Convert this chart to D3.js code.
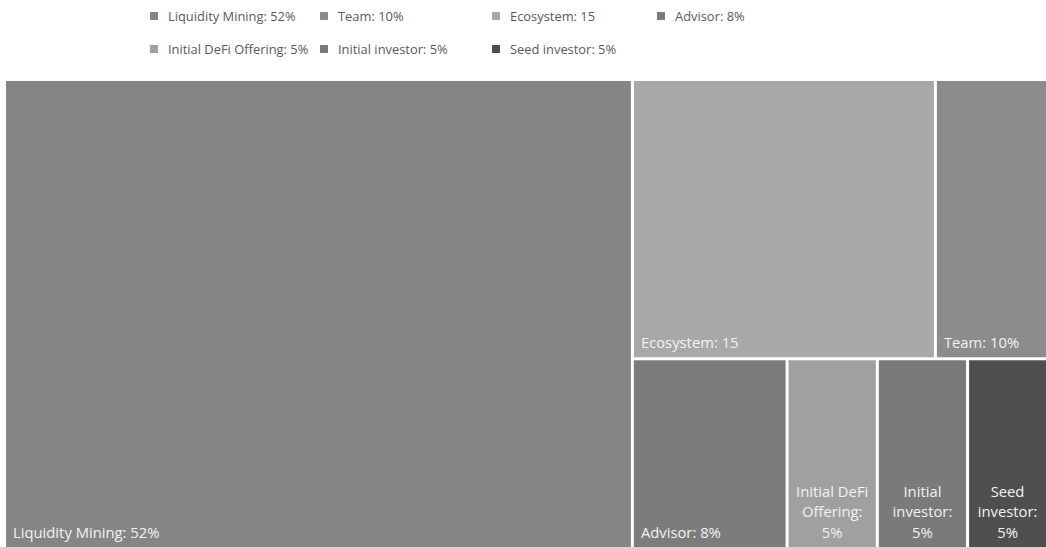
<!DOCTYPE html>
<html>
<head>
<meta charset="utf-8">
<script src="https://cdn.jsdelivr.net/npm/d3@7"></script>
<style>
  body { margin: 0; background: #fff; }
  svg { display: block; }
  text { font-family: "Open Sans", "Noto Sans", sans-serif; }
</style>
</head>
<body>
<div id="chart"></div>
<script>
// legend / data order
const categories = ["Liquidity Mining", "Team", "Ecosystem", "Advisor",
                    "Initial DeFi Offering", "Initial investor", "Seed investor"]
const labels = ["Liquidity Mining: 52%", "Team: 10%", "Ecosystem: 15", "Advisor: 8%",
                "Initial DeFi Offering: 5%", "Initial investor: 5%", "Seed investor: 5%"]
// sizes as read from the tile areas
const values = [60.2, 6.4, 17.3, 6.0, 3.5, 3.5, 3.1]
// which block each tile sits in: 0 = left column, 1 = upper row, 2 = lower row
const blocks = [0, 1, 1, 2, 2, 2, 2]
const colors = ["#858585", "#8c8c8c", "#a8a8a8", "#7c7c7c", "#a0a0a0", "#7a7a7a", "#4f4f4f"]

const width = 1046, height = 547
const svg = d3.select("#chart").append("svg")
    .attr("width", width)
    .attr("height", height)

// ---- legend ----
const legendCols = [150, 320, 492, 657]
const legendRows = [16, 49]
const legend = svg.append("g")
categories.forEach((c, i) => {
    const lx = legendCols[i % 4], ly = legendRows[Math.floor(i / 4)]
    const g = legend.append("g").attr("transform", `translate(${lx},${ly})`)
    g.append("rect")
        .attr("x", 0).attr("y", -4)
        .attr("width", 8).attr("height", 8)
        .attr("fill", colors[i])
    g.append("text")
        .attr("x", 18).attr("y", 0)
        .attr("dy", "0.35em")
        .attr("font-size", 12.9)
        .attr("fill", "#595959")
        .text(labels[i])
})

// ---- treemap ----
const blockNodes = [0, 1, 2].map(b => ({
    name: "block" + b,
    children: categories.map((c, i) => ({name: c, label: labels[i], value: values[i], color: colors[i], block: blocks[i]}))
        .filter(d => d.block === b)
}))
// left column and the right side (upper + lower rows)
const nested = {
    name: "root",
    children: [
        blockNodes[0].children[0],
        {name: "rest", children: [blockNodes[1], blockNodes[2]]}
    ]
}

const root = d3.hierarchy(nested)
    .sum(d => d.value || 0)
    .sort((a, b) => b.value - a.value)

d3.treemap()
    .size([1040, 466])
    .tile(d3.treemapSliceDice)
    .paddingInner(3)(root)

const group = svg.append("g").attr("transform", "translate(6,81)")
const leaves = root.leaves()

const nodes = group.selectAll("g")
    .data(leaves)
    .join("g")
    .attr("transform", d => `translate(${d.x0},${d.y0})`)

nodes.append("rect")
    .attr("width", d => d.x1 - d.x0)
    .attr("height", d => d.y1 - d.y0)
    .attr("fill", d => d.data.color)

// wrap labels to the tile width
nodes.each(function (d) {
    const g = d3.select(this)
    const w = d.x1 - d.x0, h = d.y1 - d.y0
    const t = g.append("text")
        .attr("font-size", 14.8)
        .attr("fill", "#f2f2f2")
    const words = d.data.label.split(" ")
    let lines = [], line = []
    const probe = t.append("tspan")
    words.forEach(wd => {
        line.push(wd)
        probe.text(line.join(" "))
        if (probe.node().getComputedTextLength() > w - 10 && line.length > 1) {
            line.pop()
            lines.push(line.join(" "))
            line = [wd]
        }
    })
    lines.push(line.join(" "))
    probe.remove()
    const lh = 20.5
    const multi = lines.length > 1
    lines.forEach((l, k) => {
        t.append("tspan")
            .attr("x", multi ? w / 2 : 7)
            .attr("y", h - 9 - (lines.length - 1 - k) * lh)
            .attr("text-anchor", multi ? "middle" : "start")
            .text(l)
    })
})
</script>
</body>
</html>
